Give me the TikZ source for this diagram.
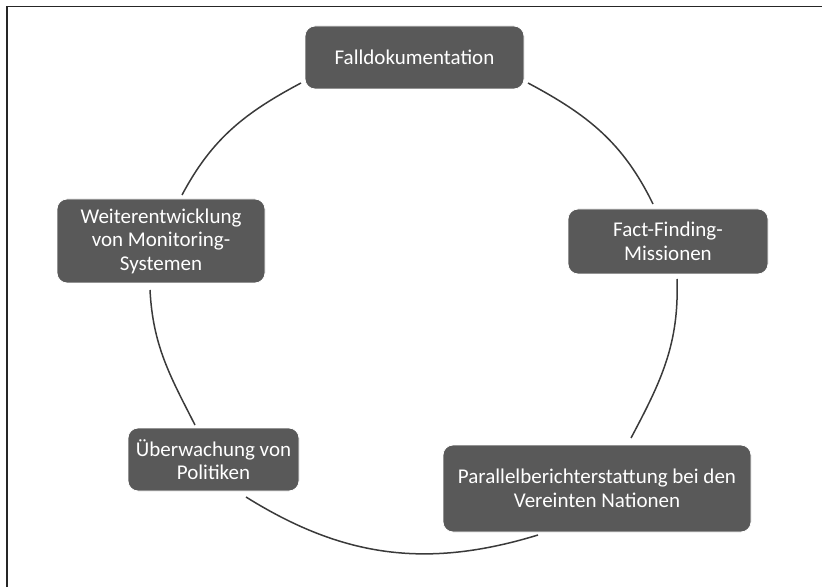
\documentclass[tikz,border=0pt]{standalone}
\usepackage{fontspec}
\setmainfont{Carlito}
\definecolor{boxgray}{HTML}{595959}
\definecolor{arcgray}{HTML}{3A3A3A}
\definecolor{framegray}{HTML}{262626}
\begin{document}
\begin{tikzpicture}[x=1pt,y=1pt,
  stage/.style={rectangle, rounded corners=10pt, fill=boxgray, draw=white, line width=0.8pt,
    text=white, align=center, inner sep=0pt,
    font=\fontsize{21}{23.5}\selectfont},
  ring/.style={draw=arcgray, line width=1.5pt}]
\useasboundingbox (0,0) rectangle (822,587);
% frame (top and left edges only)
\draw[framegray, line width=1.4pt] (7,0) -- (7,580.5) -- (822,580.5);
% stages
\node[stage, minimum width=219pt, minimum height=63pt] (fall) at (414.5,529.5) {Falldokumentation};
\node[stage, minimum width=200pt, minimum height=65pt] (fact) at (668,345.5) {Fact-Finding-\\Missionen};
\node[stage, minimum width=308pt, minimum height=87pt] (para) at (597,98.5) {Parallelberichterstattung bei den\\Vereinten Nationen};
\node[stage, minimum width=171pt, minimum height=63pt] (ueber) at (213.5,127.5) {Überwachung von\\Politiken};
\node[stage, minimum width=208pt, minimum height=84pt] (weiter) at (161,346) {Weiterentwicklung\\von Monitoring-\\Systemen};
% arc end points
\coordinate (fallL) at (301,504);
\coordinate (weiterT) at (182,392);
\coordinate (weiterB) at (150,297);
\coordinate (ueberT) at (195,162);
\coordinate (ueberB) at (246,90);
\coordinate (paraB) at (538,52);
\coordinate (paraT) at (631,149);
\coordinate (factB) at (677,308);
\coordinate (factT) at (653,383);
\coordinate (fallR) at (528,504);
% arcs
\draw[ring] (fallL) to[out=208,in=62] (weiterT);
\draw[ring] (weiterB) to[out=273,in=117] (ueberT);
\draw[ring] (ueberB) to[out=328,in=197] (paraB);
\draw[ring] (paraT) to[out=62,in=272] (factB);
\draw[ring] (factT) to[out=116,in=-28] (fallR);
\end{tikzpicture}
\end{document}
